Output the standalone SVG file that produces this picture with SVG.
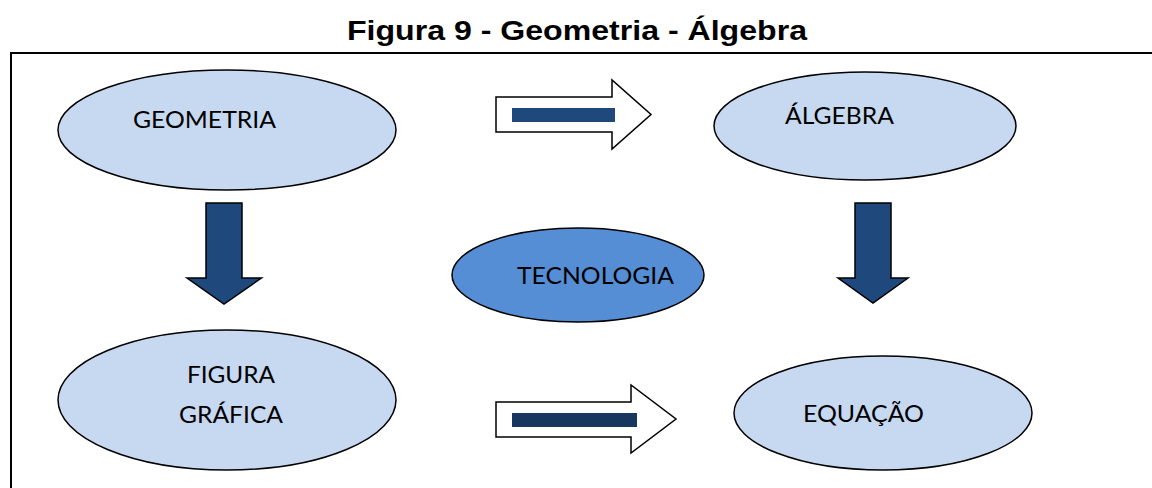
<svg xmlns="http://www.w3.org/2000/svg" width="1152" height="488" viewBox="0 0 1152 488">
<style>
.title{font-family:"Liberation Sans",Arial,sans-serif;font-weight:bold;font-size:28px;fill:#000}
.lbl{font-family:Lato,"Open Sans",sans-serif;font-size:24px;fill:#000}
.light{fill:#C6D9F1;stroke:#000;stroke-width:1.5}
.dark{fill:#558ED5;stroke:#000;stroke-width:1.5}
.down{fill:#1F497D;stroke:#000;stroke-width:1.5;stroke-linejoin:miter}
.right{fill:#fff;stroke:#000;stroke-width:1.5}
</style>
<rect width="1152" height="488" fill="#fff"/>
<text class="title" x="347" y="40" textLength="460" lengthAdjust="spacingAndGlyphs">Figura 9 - Geometria - Álgebra</text>
<path d="M11 488 V53 H1152" fill="none" stroke="#000" stroke-width="2"/>
<g id="connectors">
  <path class="right" d="M496 97 H612 V80 L651 114.5 L612 149 V132 H496 Z"/>
  <rect x="512" y="108" width="103" height="14" fill="#1F497D"/>
  <path class="right" d="M496 402 H631 V385 L676 419 L631 453 V437 H496 Z"/>
  <rect x="512" y="413" width="125" height="14" fill="#17375E"/>
  <path class="down" d="M206 203 H242 V278 H261.5 L224 304 L187 278 H206 Z"/>
  <path class="down" d="M855 203 H891 V278 H908 L873 303 L838 278 H855 Z"/>
</g>
<g id="geometria">
  <ellipse class="light" cx="227" cy="130" rx="169" ry="60"/>
  <text class="lbl" x="133" y="128" textLength="143" lengthAdjust="spacingAndGlyphs">GEOMETRIA</text>
</g>
<g id="algebra">
  <ellipse class="light" cx="865" cy="126" rx="151" ry="54"/>
  <text class="lbl" x="785" y="124" textLength="109" lengthAdjust="spacingAndGlyphs">ÁLGEBRA</text>
</g>
<g id="tecnologia">
  <ellipse class="dark" cx="578" cy="275" rx="126" ry="47"/>
  <text class="lbl" x="517" y="284" textLength="157" lengthAdjust="spacingAndGlyphs">TECNOLOGIA</text>
</g>
<g id="figura">
  <ellipse class="light" cx="227" cy="400" rx="169" ry="70"/>
  <text class="lbl" x="187" y="383" textLength="88" lengthAdjust="spacingAndGlyphs">FIGURA</text>
  <text class="lbl" x="179" y="423" textLength="104" lengthAdjust="spacingAndGlyphs">GRÁFICA</text>
</g>
<g id="equacao">
  <ellipse class="light" cx="883" cy="413" rx="149" ry="57"/>
  <text class="lbl" x="803" y="422" textLength="121" lengthAdjust="spacingAndGlyphs">EQUAÇÃO</text>
</g>
</svg>
